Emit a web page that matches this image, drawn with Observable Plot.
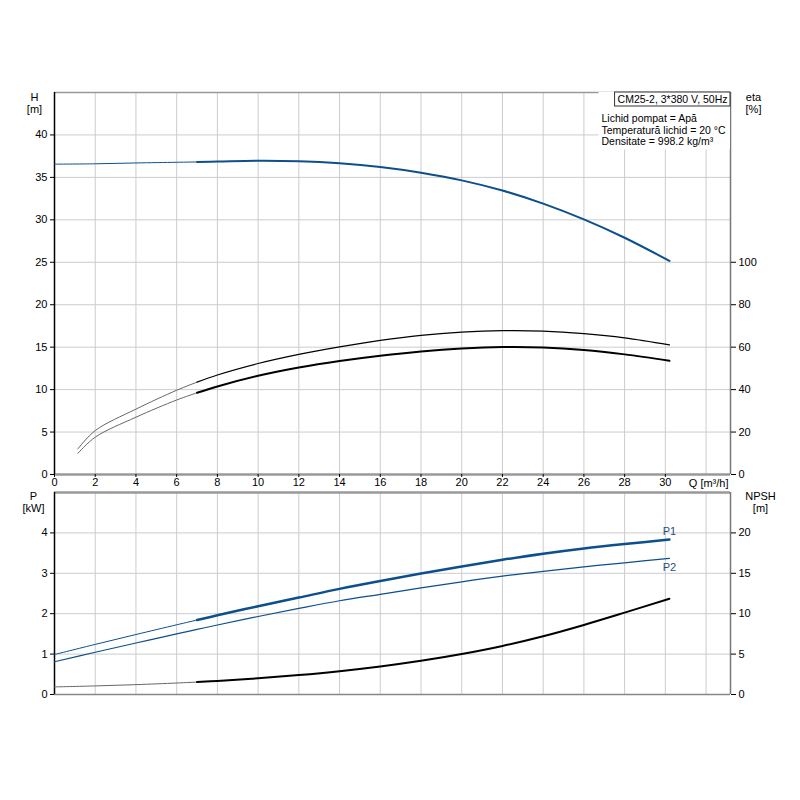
<!DOCTYPE html>
<html><head><meta charset="utf-8">
<script src="https://cdn.jsdelivr.net/npm/d3@7"></script>
<script src="https://cdn.jsdelivr.net/npm/@observablehq/plot@0.6"></script>
<style>body{margin:0;background:#fff}#chart svg{display:block}</style>
</head><body><div id="chart"></div>
<script>
// ---- data ----
const q        = [0, 2, 4, 6, 7, 8, 10, 12, 14, 16, 18, 20, 22, 24, 26, 28, 30.2];
const head     = [36.56, 36.6, 36.7, 36.78, 36.82, 36.86, 36.96, 36.9, 36.66, 36.22, 35.55, 34.65, 33.45, 31.91, 30.05, 27.89, 25.16];
const qEta     = [1.15, 2, 4, 6, 7, 8, 10, 12, 14, 16, 18, 20, 22, 24, 26, 28, 30.2];
const etaPump  = [12.1, 20.7, 30.8, 39.7, 43.5, 46.9, 52.3, 56.6, 60.1, 63.2, 65.6, 67.1, 67.8, 67.6, 66.4, 64.4, 61.1];
const etaTotal = [10.0, 17.6, 27.0, 35.1, 38.5, 41.5, 46.5, 50.4, 53.5, 56.0, 58.0, 59.4, 60.1, 59.9, 58.7, 56.6, 53.6];
const p1       = [0.99, 1.24, 1.485, 1.725, 1.843, 1.96, 2.185, 2.40, 2.615, 2.81, 2.995, 3.17, 3.335, 3.485, 3.615, 3.725, 3.835];
const p2       = [0.81, 1.045, 1.275, 1.5, 1.61, 1.72, 1.93, 2.13, 2.32, 2.48, 2.64, 2.79, 2.93, 3.05, 3.16, 3.26, 3.37];
const npsh     = [0.94, 1.06, 1.22, 1.42, 1.54, 1.68, 2.01, 2.41, 2.89, 3.47, 4.17, 5.01, 6.01, 7.21, 8.61, 10.13, 11.85];

const qTicks    = [0, 2, 4, 6, 8, 10, 12, 14, 16, 18, 20, 22, 24, 26, 28, 30];
const qGrid     = [2, 4, 6, 8, 10, 12, 14, 16, 18, 20, 22, 24, 26, 28, 30, 32];
const hTicks    = [0, 5, 10, 15, 20, 25, 30, 35, 40];
const hGrid     = [5, 10, 15, 20, 25, 30, 35, 40];
const etaTicks  = [0, 20, 40, 60, 80, 100];
const pTicks    = [0, 1, 2, 3, 4];
const pGrid     = [1, 2, 3, 4];
const npshTicks = [0, 5, 10, 15, 20];

const qDomain = [0, 33.2];
const hDomain = [0, 45];
const pDomain = [0, 5];
const etaPerH = 4;     // eta axis: 100 % <-> 25 m
const npshPerP = 5;    // NPSH axis: 20 m <-> 4 kW
const qStart = 7;      // start of bold (operating) range

const modelLabel = "CM25-2, 3*380 V, 50Hz";
const infoLines = "Lichid pompat = Apă\nTemperatură lichid = 20 °C\nDensitate = 998.2 kg/m³";

// ---- style ----
const blue = "#0d4f8c";
const gridC = "#cccccc";
const font = "'Liberation Sans', Arial, sans-serif";
const curve = "catmull-rom";
const style = {fontFamily: font, fontSize: "11px", color: "#000", background: "#fff", overflow: "visible"};

const hData = q.map((x, i) => ({q: x, h: head[i]}));
const eData = qEta.map((x, i) => ({q: x, e1: etaPump[i], e2: etaTotal[i]}));
const pData = q.map((x, i) => ({q: x, p1: p1[i], p2: p2[i], n: npsh[i]}));
const thin = d => d.filter(r => r.q <= qStart);
const bold = d => d.filter(r => r.q >= qStart);

const topPlot = Plot.plot({
  width: 800, height: 490, marginLeft: 54, marginRight: 70, marginTop: 92, marginBottom: 16,
  style,
  x: {domain: qDomain},
  y: {domain: hDomain},
  marks: [
    Plot.gridX({ticks: qGrid, stroke: gridC, strokeOpacity: 1}),
    Plot.gridY({ticks: hGrid, stroke: gridC, strokeOpacity: 1}),
    Plot.ruleY([hDomain[1]], {stroke: "#999", strokeWidth: 1.5}),
    Plot.ruleY([0], {stroke: "#999", strokeWidth: 2.5}),
    Plot.ruleX([qDomain[1]], {stroke: "#777", strokeWidth: 1.5}),
    Plot.ruleX([0], {stroke: "#000", strokeWidth: 1.5}),
    Plot.axisX({ticks: qTicks, tickSize: 3, tickPadding: 1, label: null}),
    Plot.axisY({ticks: hTicks, tickSize: 4, tickPadding: 3, label: null}),
    Plot.axisY({anchor: "right", ticks: etaTicks.map(e => e / etaPerH), tickFormat: d => Math.round(d * etaPerH), tickSize: 5, tickPadding: 3, label: null}),
    Plot.line(thin(hData), {x: "q", y: "h", stroke: blue, strokeWidth: 1, curve}),
    Plot.line(bold(hData), {x: "q", y: "h", stroke: blue, strokeWidth: 2, curve}),
    Plot.line(thin(eData), {x: "q", y: d => d.e1 / etaPerH, stroke: "#666", strokeWidth: 1, curve}),
    Plot.line(bold(eData), {x: "q", y: d => d.e1 / etaPerH, stroke: "#000", strokeWidth: 1.2, curve}),
    Plot.line(thin(eData), {x: "q", y: d => d.e2 / etaPerH, stroke: "#666", strokeWidth: 1, curve}),
    Plot.line(bold(eData), {x: "q", y: d => d.e2 / etaPerH, stroke: "#000", strokeWidth: 2, curve}),
    Plot.text(["H\n[m]"], {text: d => d, frameAnchor: "top-left", dx: -20, textAnchor: "middle", lineAnchor: "top", lineHeight: 1.1}),
    Plot.text(["eta\n[%]"], {text: d => d, frameAnchor: "top-right", dx: 23, textAnchor: "middle", lineAnchor: "top", lineHeight: 1.1}),
    Plot.text(["Q [m³/h]"], {text: d => d, frameAnchor: "bottom-right", dx: -2, dy: 9, textAnchor: "end", lineAnchor: "middle"}),
    Plot.text([infoLines], {text: d => d, frameAnchor: "top-left", dx: 547, dy: 21, textAnchor: "start", lineAnchor: "top", lineHeight: 1.12, fontSize: 10.5}),
    Plot.text([modelLabel], {text: d => d, frameAnchor: "top-right", dx: -3, dy: 7, textAnchor: "end", lineAnchor: "middle", fontSize: 10.5})
  ]
});

const botPlot = Plot.plot({
  width: 800, height: 310, marginLeft: 54, marginRight: 70, marginTop: 2, marginBottom: 106,
  style,
  x: {domain: qDomain, axis: null},
  y: {domain: pDomain},
  marks: [
    Plot.gridX({ticks: qGrid, stroke: gridC, strokeOpacity: 1}),
    Plot.gridY({ticks: pGrid, stroke: gridC, strokeOpacity: 1}),
    Plot.ruleY([pDomain[1]], {stroke: "#999", strokeWidth: 2.5}),
    Plot.ruleY([0], {stroke: "#888", strokeWidth: 1.5}),
    Plot.ruleX([qDomain[1]], {stroke: "#777", strokeWidth: 1.5}),
    Plot.ruleX([0], {stroke: "#000", strokeWidth: 1.5}),
    Plot.axisY({ticks: pTicks, tickFormat: d => String(d), tickSize: 4, tickPadding: 3, label: null}),
    Plot.axisY({anchor: "right", ticks: npshTicks.map(n => n / npshPerP), tickFormat: d => String(Math.round(d * npshPerP)), tickSize: 5, tickPadding: 3, label: null}),
    Plot.line(thin(pData), {x: "q", y: "p1", stroke: blue, strokeWidth: 1, curve}),
    Plot.line(bold(pData), {x: "q", y: "p1", stroke: blue, strokeWidth: 2.5, curve}),
    Plot.line(pData, {x: "q", y: "p2", stroke: blue, strokeWidth: 1.2, curve}),
    Plot.line(thin(pData), {x: "q", y: d => d.n / npshPerP, stroke: "#666", strokeWidth: 1, curve}),
    Plot.line(bold(pData), {x: "q", y: d => d.n / npshPerP, stroke: "#000", strokeWidth: 2, curve}),
    Plot.text(pData.slice(-1), {x: "q", y: "p1", text: () => "P1", dy: -8, fill: "#1f4f7f"}),
    Plot.text(pData.slice(-1), {x: "q", y: "p2", text: () => "P2", dy: 9, fill: "#1f4f7f"}),
    Plot.text(["P\n[kW]"], {text: d => d, frameAnchor: "top-left", dx: -21, dy: -1, textAnchor: "middle", lineAnchor: "top", lineHeight: 1.1}),
    Plot.text(["NPSH\n[m]"], {text: d => d, frameAnchor: "top-right", dx: 30, dy: -1, textAnchor: "middle", lineAnchor: "top", lineHeight: 1.1})
  ]
});

const chart = document.getElementById("chart");
chart.appendChild(topPlot);
chart.appendChild(botPlot);

// white background behind the info block, boxed model label
const svgNode = topPlot;
const rightEdge = 800 - 70;
const frameTop = 92;
function findText(prefix) {
  return Array.from(svgNode.querySelectorAll("text")).find(t => t.textContent.startsWith(prefix));
}
function backRect(node, boxed) {
  if (!node) return;
  const sr = svgNode.getBoundingClientRect();
  const tr = node.getBoundingClientRect();
  let top = node;
  while (top.parentNode && top.parentNode !== svgNode) top = top.parentNode;
  const r = document.createElementNS("http://www.w3.org/2000/svg", "rect");
  const x0 = tr.left - sr.left - 3;
  const y1 = tr.bottom - sr.top + 2;
  r.setAttribute("x", x0);
  r.setAttribute("y", frameTop);
  r.setAttribute("width", rightEdge - x0);
  r.setAttribute("height", boxed ? 14 : y1 - frameTop);
  r.setAttribute("fill", "#fff");
  if (boxed) { r.setAttribute("stroke", "#333"); r.setAttribute("stroke-width", 1); }
  svgNode.insertBefore(r, top);
}
backRect(findText("Lichid"), false);
backRect(findText("CM25"), true);
</script>
</body></html>
